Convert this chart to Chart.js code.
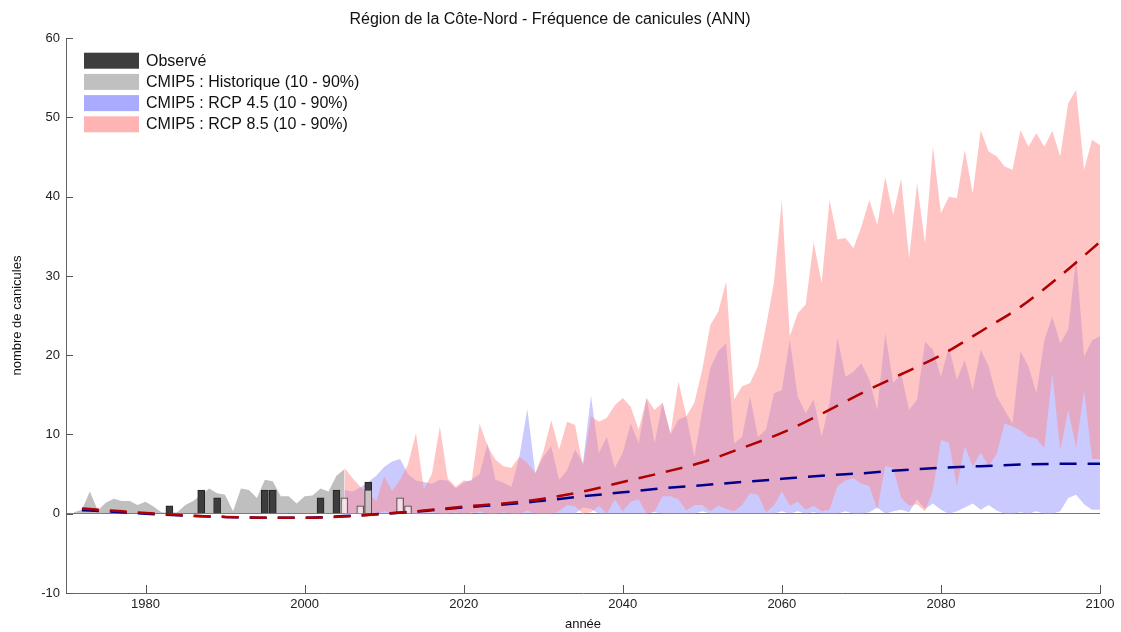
<!DOCTYPE html>
<html lang="fr">
<head>
<meta charset="utf-8">
<title>Région de la Côte-Nord - Fréquence de canicules</title>
<script src="https://cdn.jsdelivr.net/npm/chart.js@4.4.1/dist/chart.umd.min.js"></script>
<style>
  html, body { margin: 0; padding: 0; background: #fff; }
  #wrap { width: 1121px; height: 632px; }
</style>
</head>
<body>
<div id="wrap"><canvas id="canicules" width="1121" height="632"></canvas></div>
<script>
// Observed heat waves (filled bars, then partial-record years drawn as outlines)
const obsYears = [1983, 1987, 1989, 1995, 1996, 2002, 2004, 2008];
const obsValues = [1, 3, 2, 3, 3, 2, 3, 4];
const obsOpenYears = [2005, 2007, 2008, 2012, 2013];
const obsOpenValues = [2, 1, 3, 2, 1];

// CMIP5 historical envelope, 1971-2005
const histStart = 1971;
const histLo = [0, 0, 0, 0, 0, 0, 0, 0, 0, 0, 0, 0, 0, 0, 0, 0, 0, 0, 0, 0,
  0, 0, 0, 0, 0, 0, 0, 0, 0, 0, 0, 0, 0, 0, 0];
const histHi = [0.2, 0.5, 2.8, 0.4, 1.4, 1.9, 1.6, 1.6, 1.1, 1.5,
  0.9, 0.2, 0.1, 0.2, 1.1, 1.6, 2.4, 3.2, 2.6, 2.4,
  0.3, 3.2, 3.0, 2.0, 4.3, 4.1, 2.2, 2.2, 1.3, 2.2,
  2.3, 3.2, 2.8, 4.8, 5.6];

// CMIP5 projections, 2005-2100
const projStart = 2005;
const rcp45Lo = [0, 0, 0, 0, 0, 0, 0, 0, 0, 0,
  0, 0, 0, 0, 0, 0, 0.2, 0, 0, 0,
  0, 0, 0, 0, 0, 0, 0, 0, 0, 0,
  0.8, 0.6, 0, 0, 0, 0, 0, 0, 0, 0.2,
  0, 0, 0, 0, 0, 0.3, 0, 0, 0, 0,
  0, 0, 0, 0, 0, 0.3, 0, 0.3, 0, 0.2,
  0, 0, 0, 0.3, 0, 0, 0.2, 0.8, 0, 0.3,
  0.5, 0.2, 1.8, 0.6, 1.3, 0.5, 0, 0.3, 0.8, 1.3,
  0.5, 1.1, 0.4, 0, 0, 0.2, 0, 0.3, 0, 0,
  0.3, 2.0, 2.4, 1.2, 0.5, 0.5];
const rcp45Hi = [3.0, 2.8, 3.3, 4.0, 4.8, 5.9, 6.6, 6.9, 5.0, 4.2,
  4.0, 3.8, 4.3, 4.2, 3.2, 3.9, 4.3, 5.0, 8.9, 4.3,
  3.9, 3.4, 7.2, 13.2, 5.1, 7.2, 8.5, 4.3, 5.5, 8.1,
  6.4, 14.9, 7.7, 9.7, 5.8, 7.7, 11.4, 8.9, 14.6, 8.9,
  14.0, 10.0, 11.9, 12.3, 7.2, 13.1, 18.4, 20.5, 21.5, 8.9,
  9.7, 14.8, 9.7, 10.6, 15.2, 15.6, 22.0, 14.8, 12.7, 14.4,
  9.7, 14.0, 22.2, 17.3, 17.9, 19.0, 16.9, 13.1, 22.8, 16.5,
  17.7, 13.1, 14.4, 21.7, 20.7, 17.3, 21.1, 16.9, 19.4, 15.6,
  20.7, 18.6, 14.8, 13.1, 11.4, 20.5, 18.6, 15.2, 21.9, 24.9,
  21.5, 23.2, 32.4, 19.8, 21.9, 22.4];
const rcp85Lo = [0, 0, 0.2, 0, 0, 0.3, 0, 0, 0.2, 0,
  0, 0.3, 0, 0, 0.2, 0, 0, 0.3, 0, 0,
  0.2, 0, 0, 0.4, 0, 0, 0, 0.3, 1.1, 0.9,
  0, 0.2, 1.0, 0, 1.8, 0.3, 1.5, 1.8, 0, 0.3,
  2.2, 2.2, 1.8, 0.4, 1.1, 1.1, 0.3, 1.0, 0.6, 0.3,
  1.1, 2.6, 2.4, 0.2, 1.0, 2.8, 1.0, 1.5, 0.5, 1.0,
  0.3, 0.5, 3.5, 4.2, 4.5, 3.8, 3.5, 0.5, 6.0, 5.8,
  2.0, 1.0, 1.2, 0.3, 3.0, 9.3, 9.0, 3.5, 8.5, 6.0,
  7.7, 6.0, 7.5, 11.4, 11.0, 10.5, 9.7, 9.5, 8.3, 17.7,
  8.0, 13.1, 8.3, 15.6, 6.9, 6.9];
const rcp85Hi = [5.8, 4.5, 3.4, 2.6, 1.6, 4.7, 2.9, 4.3, 6.2, 10.2,
  3.1, 5.0, 11.0, 4.4, 3.4, 4.2, 4.1, 11.4, 8.5, 6.8,
  6.0, 5.8, 7.2, 6.4, 5.1, 7.8, 11.8, 8.1, 11.6, 11.2,
  6.0, 12.3, 11.6, 12.1, 13.7, 14.6, 13.5, 10.6, 14.6, 13.1,
  14.0, 10.2, 16.7, 12.3, 14.0, 18.2, 23.8, 25.5, 29.3, 14.4,
  16.1, 16.5, 18.6, 23.6, 29.1, 39.6, 22.4, 25.3, 26.4, 34.3,
  29.1, 39.6, 34.6, 34.8, 33.5, 36.2, 39.6, 36.4, 42.5, 37.7,
  42.3, 32.2, 41.7, 34.1, 46.3, 37.9, 40.0, 39.8, 45.9, 40.4,
  48.4, 45.7, 45.1, 43.8, 43.4, 48.4, 46.3, 48.0, 46.3, 48.3,
  45.1, 51.8, 53.5, 43.4, 47.2, 46.5];

// Ensemble medians (dashed lines), read every 5 years
const medYears = [1972, 1975, 1980, 1985, 1990, 1995, 2000, 2005, 2010, 2015,
  2020, 2025, 2030, 2035, 2040, 2045, 2050, 2055, 2060, 2065,
  2070, 2075, 2080, 2085, 2090, 2095, 2100];
const rcp85Med = [0.65, 0.45, 0.1, -0.2, -0.4, -0.5, -0.5, -0.35, 0.0, 0.4,
  0.9, 1.3, 1.9, 2.8, 4.0, 5.2, 6.5, 8.3, 10.2, 12.6,
  15.2, 17.6, 20.0, 23.0, 26.1, 30.0, 34.3];
const rcp45Med = [0.45, 0.3, 0.0, -0.25, -0.4, -0.5, -0.5, -0.3, 0.0, 0.35,
  0.8, 1.15, 1.65, 2.2, 2.7, 3.2, 3.6, 4.0, 4.4, 4.8,
  5.1, 5.5, 5.8, 6.0, 6.2, 6.3, 6.3];

const xTicks = [1980, 2000, 2020, 2040, 2060, 2080, 2100];

const legendItems = [
  { label: 'Observé', color: '#3d3d3d' },
  { label: 'CMIP5 : Historique (10 - 90%)', color: '#c0c0c0' },
  { label: 'CMIP5 : RCP 4.5 (10 - 90%)', color: '#aaaaff' },
  { label: 'CMIP5 : RCP 8.5 (10 - 90%)', color: '#ffb4b4' }
];

const FONT = '"Liberation Sans", Arial, sans-serif';

function yearsFrom(start, count) {
  const out = [];
  for (let i = 0; i < count; i++) out.push(start + i);
  return out;
}

function pts(xs, ys) {
  return xs.map((x, i) => ({ x: x, y: ys[i] }));
}

const histYears = yearsFrom(histStart, histHi.length);
const projYears = yearsFrom(projStart, rcp85Hi.length);

// band helper: invisible lower edge + upper edge filled down to it
function band(years, lo, hi, color, order) {
  return [
    { type: 'line', data: pts(years, lo), borderColor: 'rgba(0,0,0,0)', borderWidth: 0,
      pointRadius: 0, fill: false, order: order },
    { type: 'line', data: pts(years, hi), borderColor: 'rgba(0,0,0,0)', borderWidth: 0,
      pointRadius: 0, backgroundColor: color, fill: '-1', order: order }
  ];
}

// Inward tick marks like the original figure
const innerTicks = {
  id: 'innerTicks',
  afterDatasetsDraw(chart) {
    const { ctx, chartArea, scales } = chart;
    ctx.save();
    ctx.strokeStyle = '#555';
    ctx.lineWidth = 1;
    ctx.beginPath();
    scales.x.ticks.forEach(t => {
      const px = Math.round(scales.x.getPixelForValue(t.value)) + 0.5;
      ctx.moveTo(px, chartArea.bottom);
      ctx.lineTo(px, chartArea.bottom - 8);
    });
    scales.y.ticks.forEach(t => {
      const py = Math.round(scales.y.getPixelForValue(t.value)) + 0.5;
      ctx.moveTo(chartArea.left, py);
      ctx.lineTo(chartArea.left + 7, py);
    });
    ctx.stroke();
    ctx.restore();
  }
};

// Legend drawn inside the plot, top left
const insideLegend = {
  id: 'insideLegend',
  afterDraw(chart) {
    const { ctx, chartArea } = chart;
    const x0 = chartArea.left + 18;
    const y0 = chartArea.top + 14.5;
    ctx.save();
    ctx.font = '16px ' + FONT;
    ctx.textBaseline = 'middle';
    legendItems.forEach((item, i) => {
      const y = y0 + i * 21.2;
      ctx.fillStyle = item.color;
      ctx.fillRect(x0, y, 55, 16);
      ctx.fillStyle = '#111';
      ctx.fillText(item.label, x0 + 62, y + 8.5);
    });
    ctx.restore();
  }
};

const datasets = [
  { type: 'line', label: 'Médiane RCP 8.5', data: pts(medYears, rcp85Med), borderColor: '#b00000',
    borderWidth: 2.5, borderDash: [17, 11], pointRadius: 0, fill: false,
    cubicInterpolationMode: 'monotone', order: 0 },
  { type: 'line', label: 'Médiane RCP 4.5', data: pts(medYears, rcp45Med), borderColor: '#00008c',
    borderWidth: 2.5, borderDash: [17, 11], pointRadius: 0, fill: false,
    cubicInterpolationMode: 'monotone', order: 1 },
  { type: 'bar', label: 'Observé (incomplet)', data: pts(obsOpenYears, obsOpenValues),
    backgroundColor: 'rgba(255,238,242,0.75)', borderColor: '#4a4a4a', borderWidth: 1,
    barThickness: 7, grouped: false, order: 2 },
  { type: 'bar', label: 'Observé', data: pts(obsYears, obsValues),
    backgroundColor: '#3d3d3d', borderColor: '#222', borderWidth: 1,
    barThickness: 7, grouped: false, order: 3 }
].concat(
  band(projYears, rcp85Lo, rcp85Hi, 'rgba(255,140,140,0.5)', 4),
  band(projYears, rcp45Lo, rcp45Hi, 'rgba(150,150,255,0.5)', 5),
  band(histYears, histLo, histHi, 'rgba(128,128,128,0.5)', 6)
);

const ctx = document.getElementById('canicules').getContext('2d');
window.caniculesChart = new Chart(ctx, {
  type: 'line',
  data: { datasets: datasets },
  options: {
    responsive: false,
    animation: false,
    events: [],
    layout: { padding: { left: 0, right: 21, top: 0, bottom: 0 } },
    plugins: {
      legend: { display: false },
      tooltip: { enabled: false },
      title: {
        display: true,
        text: 'Région de la Côte-Nord - Fréquence de canicules (ANN)',
        color: '#111',
        font: { family: FONT, size: 16, weight: 'normal' },
        padding: { top: 10, bottom: 9 }
      }
    },
    scales: {
      x: {
        type: 'linear',
        min: 1970,
        max: 2100,
        offset: false,
        afterBuildTicks: s => { s.ticks = xTicks.map(v => ({ value: v })); },
        afterFit: s => { s.height = 39; },
        grid: { display: false, drawTicks: false },
        border: { display: true, color: '#666', width: 1 },
        ticks: {
          color: '#222', padding: 4, maxRotation: 0,
          font: { family: FONT, size: 13 },
          callback: v => String(v)
        },
        title: {
          display: true, text: 'année', color: '#111',
          font: { family: FONT, size: 13 }, padding: { top: 0, bottom: 0 }
        }
      },
      y: {
        min: -10,
        max: 60,
        afterFit: s => { s.width = 66; },
        grid: {
          drawTicks: false,
          color: c => (c.tick && c.tick.value === 0 ? '#777' : 'rgba(0,0,0,0)'),
          lineWidth: 1
        },
        border: { display: true, color: '#666', width: 1 },
        ticks: {
          stepSize: 10, color: '#222', padding: 6,
          font: { family: FONT, size: 13 }
        },
        title: {
          display: true, text: 'nombre de canicules', color: '#111',
          font: { family: FONT, size: 13 }, padding: { top: 10, bottom: 0 }
        }
      }
    }
  },
  plugins: [innerTicks, insideLegend]
});
</script>
</body>
</html>
